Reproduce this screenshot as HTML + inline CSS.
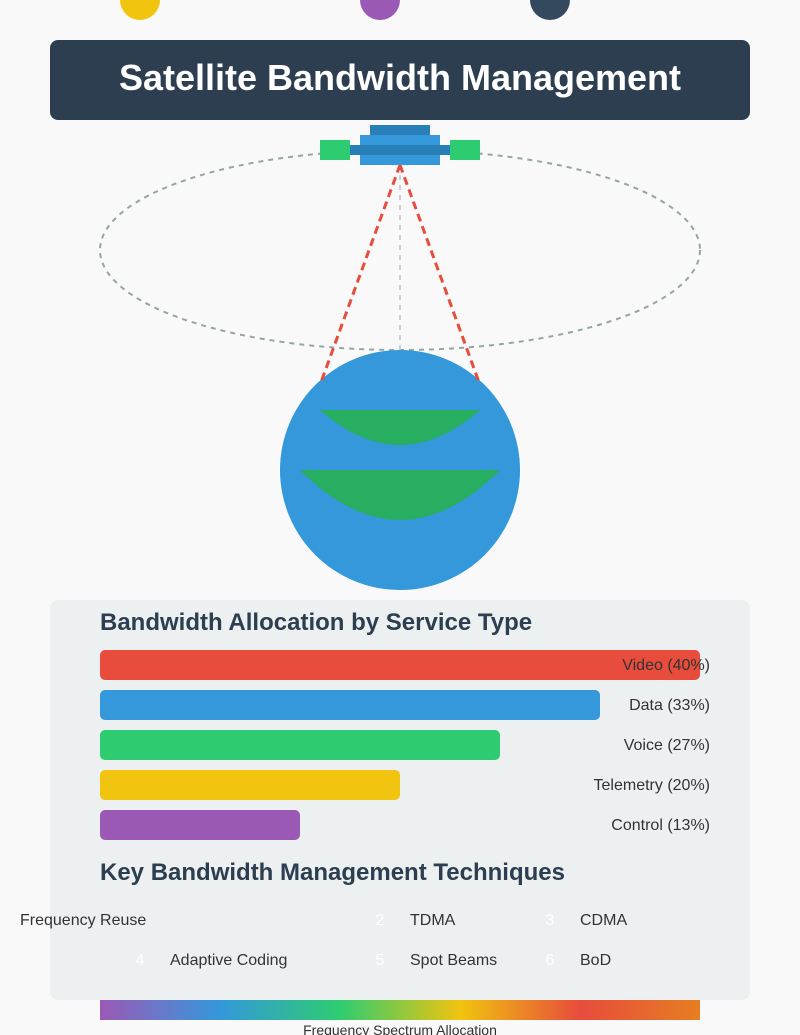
<!DOCTYPE html>
<html><head><meta charset="utf-8"><style>
html,body{margin:0;padding:0;background:#f9f9f9;}
svg{display:block;font-family:"Liberation Sans",Arial,sans-serif;}
</style></head><body>
<svg width="800" height="1035" viewBox="0 0 800 1035" xmlns="http://www.w3.org/2000/svg">
<defs>
<linearGradient id="sp" x1="0" x2="1" y1="0" y2="0">
<stop offset="0" stop-color="#9b59b6"/>
<stop offset="0.2" stop-color="#3498db"/>
<stop offset="0.4" stop-color="#2ecc71"/>
<stop offset="0.6" stop-color="#f1c40f"/>
<stop offset="0.8" stop-color="#e74c3c"/>
<stop offset="1" stop-color="#e67e22"/>
</linearGradient>
</defs>
<rect width="800" height="1035" fill="#f9f9f9"/>
<circle cx="140" cy="0" r="20" fill="#f1c40f"/>
<circle cx="380" cy="0" r="20" fill="#9b59b6"/>
<circle cx="550" cy="0" r="20" fill="#34495e"/>
<rect x="50" y="40" width="700" height="80" rx="8" fill="#2c3e50"/>
<text x="400" y="90" text-anchor="middle" font-size="36" font-weight="bold" fill="#fff">Satellite Bandwidth Management</text>
<ellipse cx="400" cy="250" rx="300" ry="100" fill="none" stroke="#95a5a6" stroke-width="2" stroke-dasharray="5,5"/>
<line x1="400" y1="165" x2="400" y2="350" stroke="#bdc3c7" stroke-width="1.5" stroke-dasharray="5,5"/>
<circle cx="400" cy="470" r="120" fill="#3498db"/>
<path d="M320 410 Q400 480 480 410 Z" fill="#27ae60"/>
<path d="M300 470 Q400 570 500 470 Z" fill="#27ae60"/>
<line x1="400" y1="165" x2="320" y2="385" stroke="#e74c3c" stroke-width="3" stroke-dasharray="8,5"/>
<line x1="400" y1="165" x2="480" y2="385" stroke="#e74c3c" stroke-width="3" stroke-dasharray="8,5"/>
<rect x="370" y="125" width="60" height="10" fill="#2980b9"/>
<rect x="360" y="135" width="80" height="30" fill="#3498db"/>
<rect x="350" y="145" width="100" height="10" fill="#2980b9"/>
<rect x="320" y="140" width="30" height="20" fill="#2ecc71"/>
<rect x="450" y="140" width="30" height="20" fill="#2ecc71"/>
<rect x="50" y="600" width="700" height="400" rx="8" fill="#ecf0f1"/>
<text x="100" y="630" font-size="24" font-weight="bold" fill="#2c3e50">Bandwidth Allocation by Service Type</text>
<rect x="100" y="650" width="600" height="30" rx="5" fill="#e74c3c"/>
<rect x="100" y="690" width="500" height="30" rx="5" fill="#3498db"/>
<rect x="100" y="730" width="400" height="30" rx="5" fill="#2ecc71"/>
<rect x="100" y="770" width="300" height="30" rx="5" fill="#f1c40f"/>
<rect x="100" y="810" width="200" height="30" rx="5" fill="#9b59b6"/>
<g font-size="16" fill="#333" text-anchor="end">
<text x="710" y="670">Video (40%)</text>
<text x="710" y="710">Data (33%)</text>
<text x="710" y="750">Voice (27%)</text>
<text x="710" y="790">Telemetry (20%)</text>
<text x="710" y="830">Control (13%)</text>
</g>
<text x="100" y="880" font-size="24" font-weight="bold" fill="#2c3e50">Key Bandwidth Management Techniques</text>
<g font-size="16" fill="#333">
<text x="20" y="925">Frequency Reuse</text>
<text x="410" y="925">TDMA</text>
<text x="580" y="925">CDMA</text>
<text x="170" y="965">Adaptive Coding</text>
<text x="410" y="965">Spot Beams</text>
<text x="580" y="965">BoD</text>
</g>
<g font-size="16" fill="#fff" text-anchor="middle">
<text x="380" y="925">2</text>
<text x="550" y="925">3</text>
<text x="140" y="965">4</text>
<text x="380" y="965">5</text>
<text x="550" y="965">6</text>
</g>
<rect x="100" y="1000" width="600" height="20" fill="url(#sp)"/>
<text x="400" y="1035" text-anchor="middle" font-size="14" fill="#333">Frequency Spectrum Allocation</text>
</svg>
</body></html>
